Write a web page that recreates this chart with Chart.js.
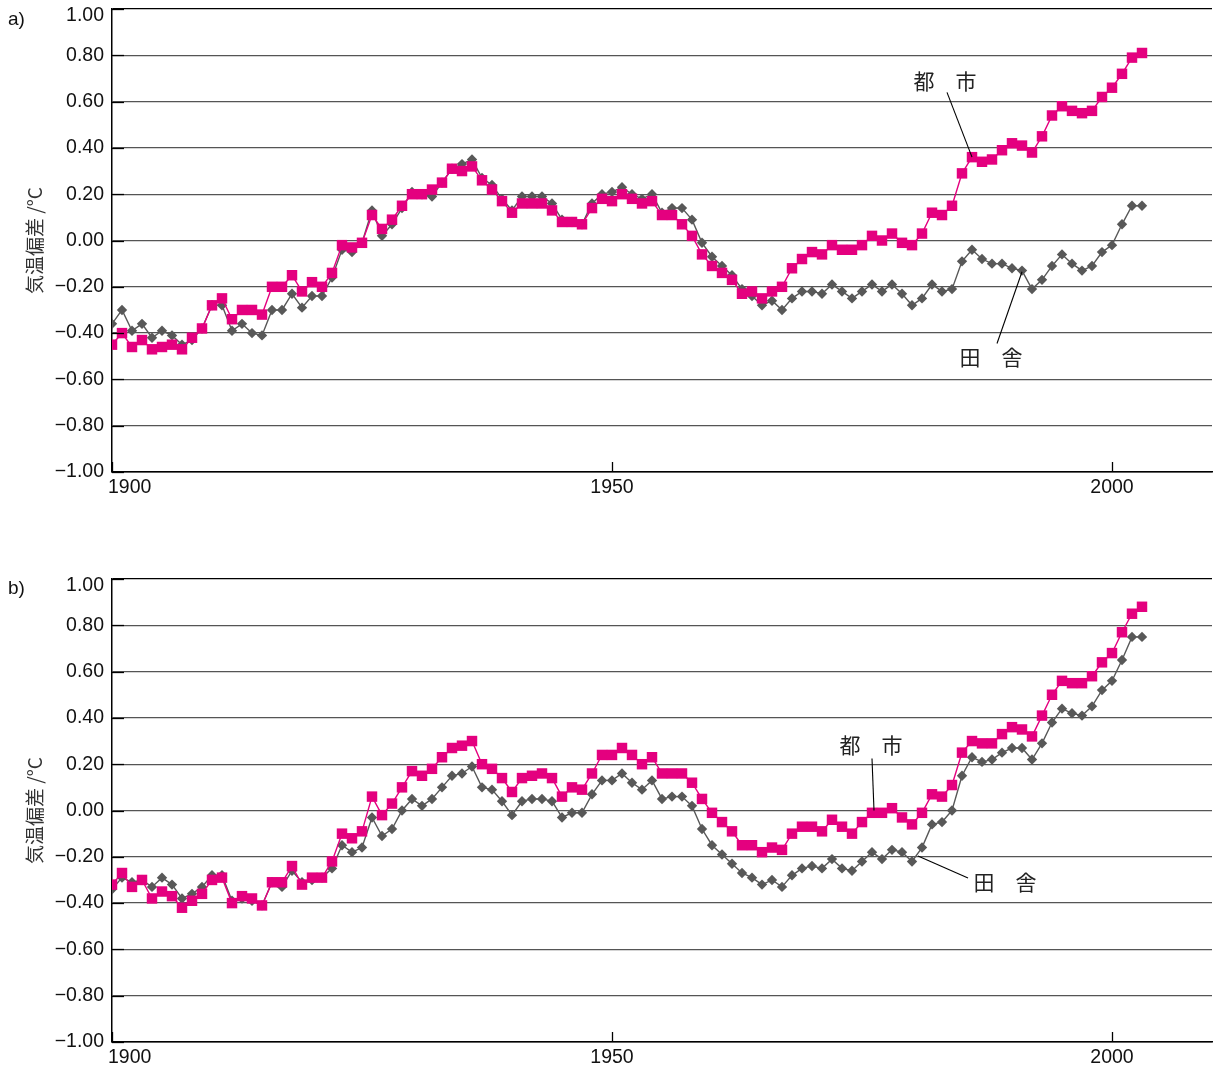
<!DOCTYPE html>
<html>
<head>
<meta charset="utf-8">
<script src="https://cdn.jsdelivr.net/npm/chart.js@4/dist/chart.umd.min.js"></script>
<style>
  html, body { margin: 0; padding: 0; background: #fff; overflow: hidden; }
  canvas { position: absolute; left: 0; }
  #chartA { top: 0; }
  #chartB { top: 569px; }
</style>
</head>
<body>
<canvas id="chartA" width="1213" height="505"></canvas>
<canvas id="chartB" width="1213" height="504"></canvas>
<script>
// Years of the annual series
const years = [
  1900,1901,1902,1903,1904,1905,1906,1907,1908,1909,
  1910,1911,1912,1913,1914,1915,1916,1917,1918,1919,
  1920,1921,1922,1923,1924,1925,1926,1927,1928,1929,
  1930,1931,1932,1933,1934,1935,1936,1937,1938,1939,
  1940,1941,1942,1943,1944,1945,1946,1947,1948,1949,
  1950,1951,1952,1953,1954,1955,1956,1957,1958,1959,
  1960,1961,1962,1963,1964,1965,1966,1967,1968,1969,
  1970,1971,1972,1973,1974,1975,1976,1977,1978,1979,
  1980,1981,1982,1983,1984,1985,1986,1987,1988,1989,
  1990,1991,1992,1993,1994,1995,1996,1997,1998,1999,
  2000,2001,2002,2003
];

// a) temperature anomaly (°C), urban stations
const urbanA = [
  -0.45,-0.40,-0.46,-0.43,-0.47,-0.46,-0.45,-0.47,-0.42,-0.38,
  -0.28,-0.25,-0.34,-0.30,-0.30,-0.32,-0.20,-0.20,-0.15,-0.22,
  -0.18,-0.20,-0.14,-0.02,-0.03,-0.01, 0.11, 0.05, 0.09, 0.15,
   0.20, 0.20, 0.22, 0.25, 0.31, 0.30, 0.32, 0.26, 0.22, 0.17,
   0.12, 0.16, 0.16, 0.16, 0.13, 0.08, 0.08, 0.07, 0.14, 0.18,
   0.17, 0.20, 0.18, 0.16, 0.17, 0.11, 0.11, 0.07, 0.02,-0.06,
  -0.11,-0.14,-0.17,-0.23,-0.22,-0.25,-0.22,-0.20,-0.12,-0.08,
  -0.05,-0.06,-0.02,-0.04,-0.04,-0.02, 0.02, 0.00, 0.03,-0.01,
  -0.02, 0.03, 0.12, 0.11, 0.15, 0.29, 0.36, 0.34, 0.35, 0.39,
   0.42, 0.41, 0.38, 0.45, 0.54, 0.58, 0.56, 0.55, 0.56, 0.62,
   0.66, 0.72, 0.79, 0.81
];

// a) temperature anomaly (°C), rural stations
const ruralA = [
  -0.36,-0.30,-0.39,-0.36,-0.42,-0.39,-0.41,-0.45,-0.43,-0.38,
  -0.28,-0.28,-0.39,-0.36,-0.40,-0.41,-0.30,-0.30,-0.23,-0.29,
  -0.24,-0.24,-0.16,-0.04,-0.05,-0.01, 0.13, 0.02, 0.07, 0.14,
   0.21, 0.20, 0.19, 0.25, 0.31, 0.33, 0.35, 0.27, 0.24, 0.18,
   0.13, 0.19, 0.19, 0.19, 0.16, 0.09, 0.08, 0.07, 0.16, 0.20,
   0.21, 0.23, 0.20, 0.18, 0.20, 0.12, 0.14, 0.14, 0.09,-0.01,
  -0.07,-0.11,-0.15,-0.21,-0.24,-0.28,-0.26,-0.30,-0.25,-0.22,
  -0.22,-0.23,-0.19,-0.22,-0.25,-0.22,-0.19,-0.22,-0.19,-0.23,
  -0.28,-0.25,-0.19,-0.22,-0.21,-0.09,-0.04,-0.08,-0.10,-0.10,
  -0.12,-0.13,-0.21,-0.17,-0.11,-0.06,-0.10,-0.13,-0.11,-0.05,
  -0.02, 0.07, 0.15, 0.15
];

// b) temperature anomaly (°C), urban stations
const urbanB = [
  -0.32,-0.27,-0.33,-0.30,-0.38,-0.35,-0.37,-0.42,-0.39,-0.36,
  -0.30,-0.29,-0.40,-0.37,-0.38,-0.41,-0.31,-0.31,-0.24,-0.32,
  -0.29,-0.29,-0.22,-0.10,-0.12,-0.09, 0.06,-0.02, 0.03, 0.10,
   0.17, 0.15, 0.18, 0.23, 0.27, 0.28, 0.30, 0.20, 0.18, 0.14,
   0.08, 0.14, 0.15, 0.16, 0.14, 0.06, 0.10, 0.09, 0.16, 0.24,
   0.24, 0.27, 0.24, 0.20, 0.23, 0.16, 0.16, 0.16, 0.12, 0.05,
  -0.01,-0.05,-0.09,-0.15,-0.15,-0.18,-0.16,-0.17,-0.10,-0.07,
  -0.07,-0.09,-0.04,-0.07,-0.10,-0.05,-0.01,-0.01, 0.01,-0.03,
  -0.06,-0.01, 0.07, 0.06, 0.11, 0.25, 0.30, 0.29, 0.29, 0.33,
   0.36, 0.35, 0.32, 0.41, 0.50, 0.56, 0.55, 0.55, 0.58, 0.64,
   0.68, 0.77, 0.85, 0.88
];

// b) temperature anomaly (°C), rural stations
const ruralB = [
  -0.34,-0.29,-0.31,-0.30,-0.33,-0.29,-0.32,-0.38,-0.36,-0.33,
  -0.28,-0.28,-0.39,-0.38,-0.39,-0.41,-0.31,-0.33,-0.26,-0.31,
  -0.30,-0.29,-0.25,-0.15,-0.18,-0.16,-0.03,-0.11,-0.08, 0.00,
   0.05, 0.02, 0.05, 0.10, 0.15, 0.16, 0.19, 0.10, 0.09, 0.04,
  -0.02, 0.04, 0.05, 0.05, 0.04,-0.03,-0.01,-0.01, 0.07, 0.13,
   0.13, 0.16, 0.12, 0.09, 0.13, 0.05, 0.06, 0.06, 0.02,-0.08,
  -0.15,-0.19,-0.23,-0.27,-0.29,-0.32,-0.30,-0.33,-0.28,-0.25,
  -0.24,-0.25,-0.21,-0.25,-0.26,-0.22,-0.18,-0.21,-0.17,-0.18,
  -0.22,-0.16,-0.06,-0.05, 0.00, 0.15, 0.23, 0.21, 0.22, 0.25,
   0.27, 0.27, 0.22, 0.29, 0.38, 0.44, 0.42, 0.41, 0.45, 0.52,
   0.56, 0.65, 0.75, 0.75
];

// Axis ticks
const yTickValues = [1.0, 0.8, 0.6, 0.4, 0.2, 0.0, -0.2, -0.4, -0.6, -0.8, -1.0];
const yTickLabels = ['1.00','0.80','0.60','0.40','0.20','0.00','\u22120.20','\u22120.40','\u22120.60','\u22120.80','\u22121.00'];
const xTickValues = [1900, 1950, 2000];
const xTickLabels = ['1900', '1950', '2000'];

const seriesNames = ['都\u3000市', '田\u3000舎'];
const axisTitle = '気温偏差 /°C';

// Callout labels: text position and leader line, in data units
const calloutsA = [
  { text: seriesNames[0], tx: 1983.3, ty: 0.688, from: [1983.5, 0.64], to: [1986, 0.36] },
  { text: seriesNames[1], tx: 1987.9, ty: -0.505, from: [1988.5, -0.445], to: [1991, -0.135] }
];
const calloutsB = [
  { text: seriesNames[0], tx: 1975.9, ty: 0.282, from: [1976.0, 0.225], to: [1976.2, 0.0] },
  { text: seriesNames[1], tx: 1989.3, ty: -0.31, from: [1985.6, -0.292], to: [1980.6, -0.197] }
];

const MAGENTA = '#E4007F';
const GRAY = '#585858';
const LATIN = '"Liberation Sans", Arial, Helvetica, sans-serif';
const CJK = '"Noto Sans CJK JP", "Noto Sans CJK SC", sans-serif';

function toPoints(vals) {
  return years.map((yr, i) => ({ x: yr, y: vals[i] }));
}

function decorations(letter, callouts) {
  return {
    id: 'decorations',
    afterDraw(chart) {
      const ctx = chart.ctx;
      const xs = chart.scales.x;
      const ys = chart.scales.y;
      const area = chart.chartArea;
      ctx.save();

      // inner tick marks on the value axis
      ctx.strokeStyle = '#000';
      ctx.lineWidth = 1.3;
      yTickValues.forEach(v => {
        const py = Math.round(ys.getPixelForValue(v)) + 0.5;
        ctx.beginPath();
        ctx.moveTo(area.left, py);
        ctx.lineTo(area.left + 12, py);
        ctx.stroke();
      });
      // inner tick marks on the year axis
      xTickValues.forEach(t => {
        const px = Math.round(xs.getPixelForValue(t)) + 0.5;
        ctx.beginPath();
        ctx.moveTo(px, area.bottom);
        ctx.lineTo(px, area.bottom - 10);
        ctx.stroke();
      });

      // value axis labels
      ctx.fillStyle = '#111';
      ctx.font = '19.5px ' + LATIN;
      ctx.textAlign = 'right';
      ctx.textBaseline = 'middle';
      yTickValues.forEach((v, i) => {
        const py = Math.max(ys.getPixelForValue(v), area.top + 7);
        ctx.fillText(yTickLabels[i], area.left - 8, py);
      });

      // year axis labels
      ctx.textBaseline = 'middle';
      xTickValues.forEach((t, i) => {
        const px = xs.getPixelForValue(t);
        if (i === 0) {
          ctx.textAlign = 'left';
          ctx.fillText(xTickLabels[i], px - 4, area.bottom + 16);
        } else {
          ctx.textAlign = 'center';
          ctx.fillText(xTickLabels[i], px, area.bottom + 16);
        }
      });

      // panel letter
      ctx.textAlign = 'left';
      ctx.font = '19px ' + LATIN;
      ctx.fillText(letter, 8, 20);

      // axis title
      ctx.save();
      ctx.translate(35, ys.getPixelForValue(0));
      ctx.rotate(-Math.PI / 2);
      ctx.textAlign = 'center';
      ctx.textBaseline = 'middle';
      ctx.fillStyle = '#333';
      ctx.font = '19px ' + CJK;
      ctx.fillText(axisTitle, 0, 0);
      ctx.restore();

      // callouts
      callouts.forEach(c => {
        ctx.strokeStyle = '#000';
        ctx.lineWidth = 1.1;
        ctx.beginPath();
        ctx.moveTo(xs.getPixelForValue(c.from[0]), ys.getPixelForValue(c.from[1]));
        ctx.lineTo(xs.getPixelForValue(c.to[0]), ys.getPixelForValue(c.to[1]));
        ctx.stroke();
        ctx.fillStyle = '#222';
        ctx.font = '21px ' + CJK;
        ctx.textAlign = 'center';
        ctx.textBaseline = 'middle';
        ctx.fillText(c.text, xs.getPixelForValue(c.tx), ys.getPixelForValue(c.ty));
      });

      ctx.restore();
    }
  };
}

function makeChart(canvasId, urban, rural, letter, callouts, topPad, axisHeight) {
  return new Chart(document.getElementById(canvasId), {
    type: 'line',
    data: {
      datasets: [
        {
          label: seriesNames[0],
          data: toPoints(urban),
          borderColor: MAGENTA,
          backgroundColor: MAGENTA,
          borderWidth: 1.4,
          pointStyle: 'rect',
          pointRadius: 7.4,
          pointBorderWidth: 0,
          tension: 0
        },
        {
          label: seriesNames[1],
          data: toPoints(rural),
          borderColor: GRAY,
          backgroundColor: GRAY,
          borderWidth: 1.4,
          pointStyle: 'rectRot',
          pointRadius: 5.2,
          pointBorderWidth: 0,
          tension: 0
        }
      ]
    },
    options: {
      responsive: false,
      animation: false,
      devicePixelRatio: 1,
      layout: { autoPadding: false, padding: { top: topPad, right: 1, left: 0, bottom: 0 } },
      plugins: { legend: { display: false }, tooltip: { enabled: false } },
      scales: {
        x: {
          type: 'linear',
          min: 1900,
          max: 2010,
          ticks: { display: false },
          grid: { display: false },
          border: { display: true, color: '#000', width: 1.5 },
          afterFit(scale) { scale.height = axisHeight; }
        },
        y: {
          min: -1,
          max: 1,
          ticks: { display: false, stepSize: 0.2 },
          grid: {
            drawTicks: false,
            lineWidth: 1.2,
            color: ctx => (Math.abs(Math.abs(ctx.tick.value) - 1) < 1e-6 ? '#000' : '#555')
          },
          border: { display: true, color: '#000', width: 1.5 },
          afterFit(scale) { scale.width = 112; }
        }
      }
    },
    plugins: [decorations(letter, callouts)]
  });
}

makeChart('chartA', urbanA, ruralA, 'a)', calloutsA, 9, 33);
makeChart('chartB', urbanB, ruralB, 'b)', calloutsB, 10, 31);
</script>
</body>
</html>
